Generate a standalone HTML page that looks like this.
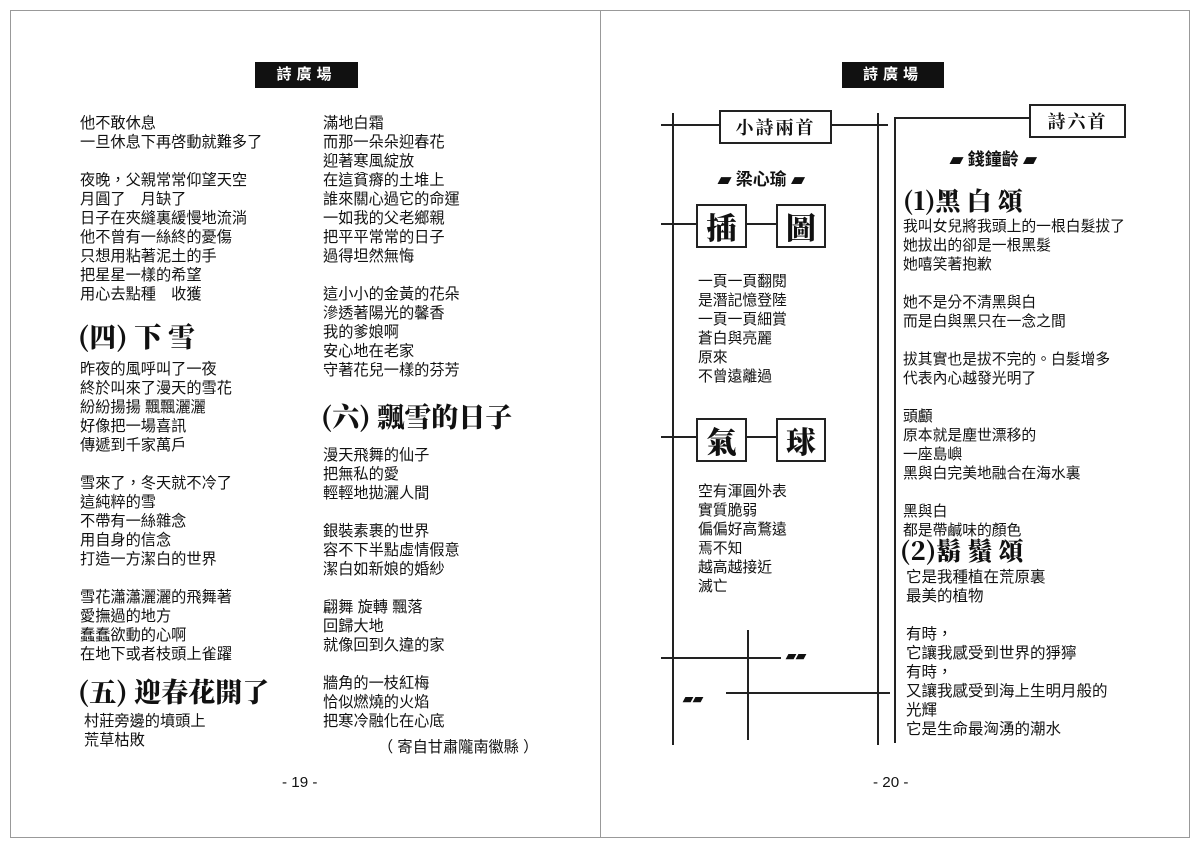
<!DOCTYPE html>
<html><head><meta charset="utf-8"><style>
body{margin:0;width:1200px;height:849px;background:#fff;position:relative;overflow:hidden;font-family:"Liberation Sans","Noto Sans CJK TC",sans-serif;color:#111}
.t{position:absolute;font-size:15.2px;line-height:19px;white-space:pre}
.r{font-size:14.8px}
.h{position:absolute;background:#111;color:#fff;font-weight:bold;font-size:15px;text-align:center;line-height:26px;letter-spacing:5px}
.ti{position:absolute;font-family:"Noto Serif CJK SC","Noto Sans CJK TC",serif;font-weight:900;white-space:pre}
.l{position:absolute;background:#222}
.b{position:absolute;border:2px solid #222;background:#fff;text-align:center;font-family:"Noto Serif CJK SC",serif;box-sizing:border-box}
.m{position:absolute;font-size:13px;font-weight:bold}
</style></head><body>
<div style="position:absolute;left:10px;top:10px;width:1180px;height:828px;border:1px solid #999;box-sizing:border-box"></div>
<div class="l" style="left:600px;top:10px;width:1px;height:828px;background:#999"></div>

<div class="h" style="left:255px;top:62px;width:103px;height:26px">詩廣場</div>
<div class="h" style="left:842px;top:62px;width:102px;height:26px">詩廣場</div>

<div class="t" style="left:80px;top:114px">他不敢休息
一旦休息下再啓動就難多了

夜晚，父親常常仰望天空
月圓了　月缺了
日子在夾縫裏緩慢地流淌
他不曾有一絲終的憂傷
只想用粘著泥土的手
把星星一樣的希望
用心去點種　收獲</div>
<div class="ti" style="left:78px;top:316px;font-size:27px">(四) 下 雪</div>
<div class="t" style="left:80px;top:360px">昨夜的風呼叫了一夜
終於叫來了漫天的雪花
紛紛揚揚 飄飄灑灑
好像把一場喜訊
傳遞到千家萬戶

雪來了，冬天就不冷了
這純粹的雪
不帶有一絲雜念
用自身的信念
打造一方潔白的世界

雪花瀟瀟灑灑的飛舞著
愛撫過的地方
蠢蠢欲動的心啊
在地下或者枝頭上雀躍</div>
<div class="ti" style="left:78px;top:671px;font-size:27px">(五) 迎春花開了</div>
<div class="t" style="left:84px;top:712px">村莊旁邊的墳頭上
荒草枯敗</div>

<div class="t" style="left:323px;top:114px">滿地白霜
而那一朵朵迎春花
迎著寒風綻放
在這貧瘠的土堆上
誰來關心過它的命運
一如我的父老鄉親
把平平常常的日子
過得坦然無悔

這小小的金黃的花朵
滲透著陽光的馨香
我的爹娘啊
安心地在老家
守著花兒一樣的芬芳</div>
<div class="ti" style="left:321px;top:396px;font-size:27px">(六) 飄雪的日子</div>
<div class="t" style="left:323px;top:446px">漫天飛舞的仙子
把無私的愛
輕輕地拋灑人間

銀裝素裹的世界
容不下半點虛情假意
潔白如新娘的婚紗

翩舞 旋轉 飄落
回歸大地
就像回到久違的家

牆角的一枝紅梅
恰似燃燒的火焰
把寒冷融化在心底</div>
<div class="t" style="left:378px;top:738px">（ 寄自甘肅隴南徽縣 ）</div>
<div class="t" style="left:282px;top:773px">- 19 -</div>
<div class="t" style="left:873px;top:773px">- 20 -</div>

<div class="l" style="left:672px;top:113px;width:2px;height:632px"></div>
<div class="l" style="left:877px;top:113px;width:2px;height:632px"></div>
<div class="l" style="left:661px;top:124px;width:227px;height:2px"></div>
<div class="l" style="left:894px;top:117px;width:2px;height:626px"></div>
<div class="l" style="left:894px;top:117px;width:140px;height:2px"></div>
<div class="b" style="left:719px;top:110px;width:113px;height:34px;font-size:18px;line-height:30px;font-weight:bold;letter-spacing:2px">小詩兩首</div>
<div class="b" style="left:1029px;top:104px;width:97px;height:34px;font-size:18px;line-height:30px;font-weight:bold;letter-spacing:2px">詩六首</div>

<div class="t" style="left:718px;top:169px;font-size:17px;font-weight:bold;line-height:22px">▰ 梁心瑜 ▰</div>
<div class="t" style="left:950px;top:149px;font-size:17px;font-weight:bold;line-height:22px">▰ 錢鐘齡 ▰</div>

<div class="l" style="left:661px;top:223px;width:115px;height:2px"></div>
<div class="b" style="left:696px;top:204px;width:51px;height:44px;font-size:30px;line-height:40px;font-weight:900">插</div>
<div class="b" style="left:776px;top:204px;width:50px;height:44px;font-size:30px;line-height:40px;font-weight:900">圖</div>
<div class="t r" style="left:698px;top:273px">一頁一頁翻閱
是潛記憶登陸
一頁一頁細賞
蒼白與亮麗
原來
不曾遠離過</div>

<div class="l" style="left:661px;top:436px;width:115px;height:2px"></div>
<div class="b" style="left:696px;top:418px;width:51px;height:44px;font-size:30px;line-height:40px;font-weight:900">氣</div>
<div class="b" style="left:776px;top:418px;width:50px;height:44px;font-size:30px;line-height:40px;font-weight:900">球</div>
<div class="t r" style="left:698px;top:483px">空有渾圓外表
實質脆弱
偏偏好高鶩遠
焉不知
越高越接近
滅亡</div>

<div class="l" style="left:661px;top:657px;width:120px;height:2px"></div>
<div class="l" style="left:747px;top:630px;width:2px;height:110px"></div>
<div class="l" style="left:726px;top:692px;width:164px;height:2px"></div>
<div class="m" style="left:786px;top:648px">▰▰</div>
<div class="m" style="left:683px;top:691px">▰▰</div>

<div class="ti" style="left:903px;top:182px;font-size:25px">(1)黑 白 頌</div>
<div class="t r" style="left:903px;top:218px">我叫女兒將我頭上的一根白髮拔了
她拔出的卻是一根黑髮
她嘻笑著抱歉

她不是分不清黑與白
而是白與黑只在一念之間

拔其實也是拔不完的。白髮增多
代表內心越發光明了

頭顱
原本就是塵世漂移的
一座島嶼
黑與白完美地融合在海水裏

黑與白
都是帶鹹味的顏色</div>
<div class="ti" style="left:900px;top:532px;font-size:25px">(2)鬍 鬚 頌</div>
<div class="t" style="left:906px;top:568px;font-size:15.5px">它是我種植在荒原裏
最美的植物

有時，
它讓我感受到世界的猙獰
有時，
又讓我感受到海上生明月般的
光輝
它是生命最洶湧的潮水</div>
</body></html>
